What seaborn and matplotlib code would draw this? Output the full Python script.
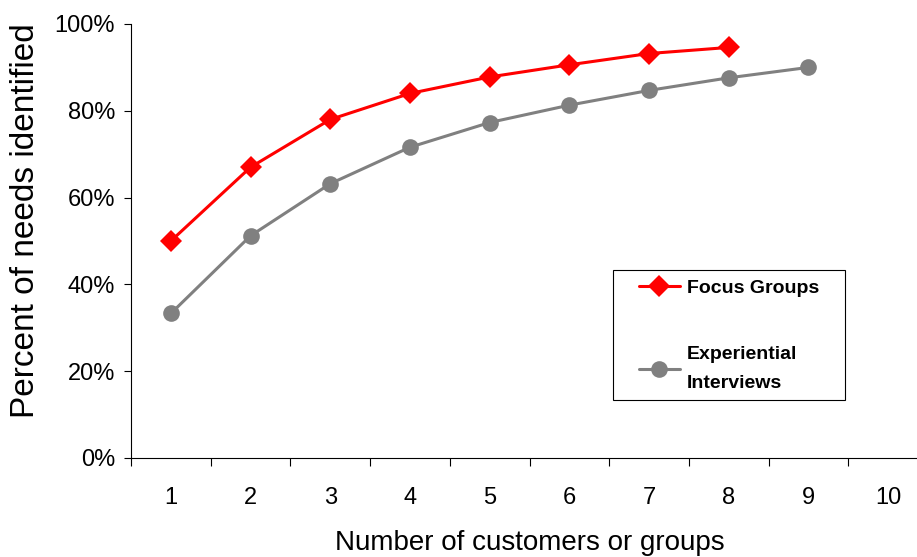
# needs identified vs number of customers, focus groups vs interviews

import pandas as pd
import matplotlib
matplotlib.use('Agg')
import matplotlib.pyplot as plt
from matplotlib.patches import Rectangle
import seaborn as sns

customers = [1, 2, 3, 4, 5, 6, 7, 8, 9]
focus_groups = [50, 67, 78, 84, 87.8, 90.6, 93.2, 94.6]
interviews = [33.3, 51.2, 63.2, 71.6, 77.3, 81.3, 84.7, 87.6, 90.0]
y_ticks = [0, 20, 40, 60, 80, 100]
x_labels = ['1', '2', '3', '4', '5', '6', '7', '8', '9', '10']

df = pd.concat([
    pd.DataFrame({'n': customers[:len(focus_groups)], 'pct': focus_groups, 'series': 'Focus Groups'}),
    pd.DataFrame({'n': customers, 'pct': interviews, 'series': 'Experiential Interviews'}),
])

sns.set_style('white')
plt.rcParams['font.family'] = ['Liberation Sans', 'DejaVu Sans']
for k in ['text.color', 'axes.labelcolor', 'xtick.color', 'ytick.color']:
    plt.rcParams[k] = 'black'

fig = plt.figure(figsize=(9.17, 5.57), dpi=100)
ax = fig.add_axes([131 / 917, 99 / 557, 797 / 917, 434 / 557])

sns.lineplot(data=df, x='n', y='pct', hue='series', style='series',
             palette={'Focus Groups': '#ff0000', 'Experiential Interviews': '#808080'},
             markers={'Focus Groups': 'D', 'Experiential Interviews': 'o'},
             dashes=False, linewidth=2.2, markeredgewidth=0, ax=ax)
for line in ax.get_lines():
    if line.get_marker() == 'D':
        line.set_markersize(11)
    else:
        line.set_markersize(12)

ax.set_xlim(0.5, 10.5)
ax.set_ylim(0, 100)
ax.set_yticks(y_ticks)
ax.set_yticklabels([str(t) + '%' for t in y_ticks], fontsize=17)
ax.set_xticks(range(1, 11))
ax.set_xticklabels(x_labels, fontsize=17)
ax.set_xticks([i + 0.5 for i in range(0, 10)], minor=True)
ax.tick_params(axis='x', which='major', length=0, pad=21)
ax.tick_params(axis='x', which='minor', length=5.8, width=0.8, color='black', direction='out', bottom=True)
ax.tick_params(axis='y', length=5, width=0.8, color='black', direction='out', left=True, pad=6.5)

for side in ['top', 'right']:
    ax.spines[side].set_visible(False)
for side in ['left', 'bottom']:
    ax.spines[side].set_color('black')
    ax.spines[side].set_linewidth(0.8)

ax.set_xlabel('Number of customers or groups', fontsize=20, labelpad=15)
ax.set_ylabel('Percent of needs identified', fontsize=24)
ax.yaxis.set_label_coords(-0.113, 0.548)

# legend box drawn by hand, entries placed inside it
ax.add_patch(Rectangle((0.6048, 0.1336), 0.2911, 0.2996, transform=ax.transAxes,
                       fill=False, edgecolor='black', linewidth=0.8, clip_on=False))
handles, labels = ax.get_legend_handles_labels()
labels = ['Focus Groups' if l == 'Focus Groups' else 'Experiential\nInterviews' for l in labels]
leg = ax.legend(handles, labels, loc='upper left', bbox_to_anchor=(0.6374, 0.4124),
                frameon=False, prop={'weight': 'bold', 'size': 14}, handlelength=2.1,
                handletextpad=0.35, labelspacing=2.55, borderpad=0, borderaxespad=0)
for t in leg.get_texts():
    t.set_linespacing(1.9)

fig.savefig('out.png', dpi=100)
